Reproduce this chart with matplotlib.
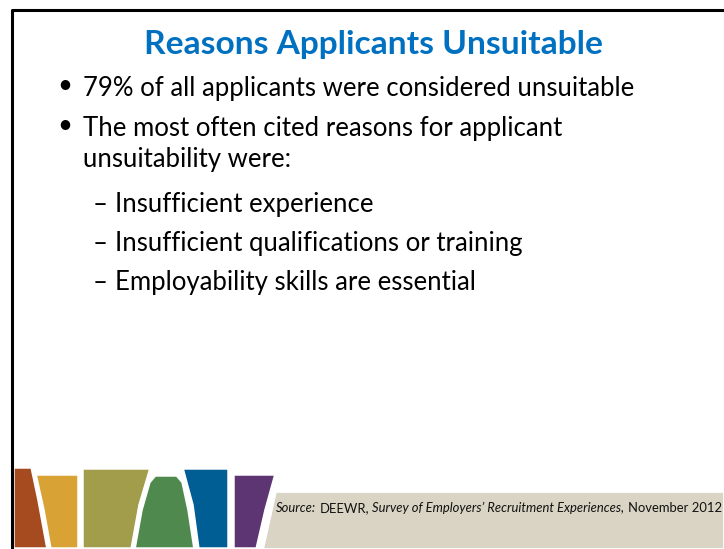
import matplotlib
matplotlib.use("Agg")
import matplotlib.pyplot as plt
from matplotlib.patches import Polygon

### Slide content

title = "Reasons Applicants Unsuitable"
bullets = [
    ["79% of all applicants were considered unsuitable"],
    ["The most often cited reasons for applicant", "unsuitability were:"],
]
sub_bullets = [
    "Insufficient experience",
    "Insufficient qualifications or training",
    "Employability skills are essential",
]
# (text, italic?) pieces of the source line
source_parts = [
    ("Source:", True),
    ("DEEWR,", False),
    ("Survey of Employers\u2019 Recruitment Experiences,", True),
    ("November 2012", False),
]

band_colors = ["#A64A20", "#D8A235", "#A29D4A", "#50894E", "#005E94", "#5C3572"]
band_shapes = [
    [(13, 467), (32, 467), (39, 500), (48, 549), (13, 549)],
    [(35, 474), (79, 474), (79, 549), (50, 549), (43, 510)],
    [(82, 468), (151, 468), (140, 505), (132, 549), (82, 549)],
    [(149, 482), (155, 475), (177, 475), (183, 482), (189, 510), (195, 549),
     (134, 549), (141, 510)],
    [(182, 468), (229, 468), (229, 549), (198, 549), (192, 505)],
    [(233, 474), (276, 474), (266, 510), (257, 549), (233, 549)],
]
beige_band = [(275, 491), (724, 491), (724, 549), (262, 549)]

FONT = "Lato"
TEXT_PX = 25.8     # body font size, pixels
TITLE_PX = 33.5


def px(v):
    return v * 72 / 100.0


fig = plt.figure(figsize=(7.24, 5.49), dpi=100)
ax = fig.add_axes([0, 0, 1, 1])
ax.set_xlim(0, 724)
ax.set_ylim(549, 0)
ax.axis('off')

# frame line (top and left)
ax.plot([12, 12, 724], [549, 10, 10], color='black', lw=2.2, solid_capstyle='butt')

# coloured bands at the bottom
ax.add_patch(Polygon(beige_band, closed=True, fc="#D9D4C3", ec='white', lw=2))
for pts, col in zip(band_shapes, band_colors):
    ax.add_patch(Polygon(pts, closed=True, fc=col, ec='white', lw=2.5, joinstyle='round'))

# title
ax.text(373, 54, title, fontsize=px(TITLE_PX), fontweight='bold', color='#0070C0',
        family=FONT, ha='center', va='baseline')

# bullets (first line baseline, then wrapped lines 31px lower)
bullet_y = [96, 136]
for y, lines in zip(bullet_y, bullets):
    ax.text(65, y - 11, "\u2022", fontsize=px(TEXT_PX), family=FONT, ha='center', va='center')
    for i, line in enumerate(lines):
        ax.text(83, y + 31 * i, line, fontsize=px(TEXT_PX), family=FONT, va='baseline')

sub_y = [212, 251, 290]
for y, txt in zip(sub_y, sub_bullets):
    ax.text(93, y, "\u2013", fontsize=px(TEXT_PX), family=FONT, va='baseline')
    ax.text(115, y, txt, fontsize=px(TEXT_PX), family=FONT, va='baseline')

# source line, pieces laid out one after another
renderer = fig.canvas.get_renderer()
src_size = px(13.0)
w1 = ax.text(0, 0, "xx", fontsize=src_size, family=FONT).get_window_extent(renderer).width
probe = ax.text(0, 0, "x x", fontsize=src_size, family=FONT)
space = probe.get_window_extent(renderer).width - w1
for t in list(ax.texts[-2:]):
    t.remove()

x = 276
for txt, it in source_parts:
    t = ax.text(x, 512, txt, fontsize=src_size, family=FONT,
                style='italic' if it else 'normal', va='baseline', color='#111111')
    x += t.get_window_extent(renderer).width + space

fig.savefig("out.png", dpi=100)
